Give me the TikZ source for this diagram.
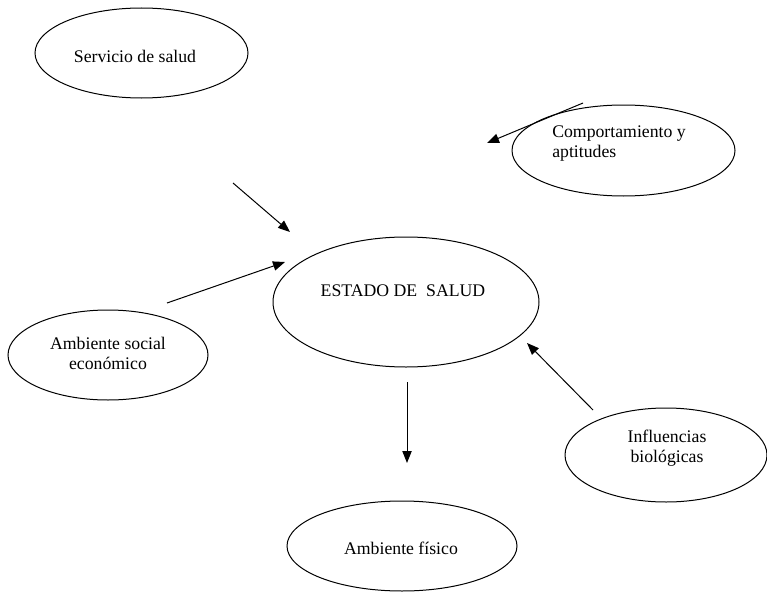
\documentclass[tikz,border=0pt]{standalone}
\usepackage{fontspec}
\setmainfont{Liberation Serif}
\usetikzlibrary{arrows.meta}
\begin{document}
\begin{tikzpicture}[x=0.75pt,y=-0.75pt,
  oval/.style={line width=0.75pt},
  lbl/.style={font=\fontsize{13.3}{15}\selectfont,align=center,inner sep=0pt},
  flow/.style={line width=0.75pt,-{Triangle[length=9pt,width=7pt]}}]
\useasboundingbox (0,0) rectangle (767,592);
% ellipses
\draw[oval] (141.5,53) ellipse [x radius=106.5,y radius=45];
\draw[oval] (623.5,150.5) ellipse [x radius=111.5,y radius=45.5];
\draw[oval] (406,302) ellipse [x radius=133,y radius=65];
\draw[oval] (108,355) ellipse [x radius=100,y radius=45];
\draw[oval] (666,455) ellipse [x radius=101,y radius=47];
\draw[oval] (402,546) ellipse [x radius=115,y radius=45];
% labels
\node[lbl] (serv) at (135,56) {Servicio de salud};
\node[lbl,align=left,anchor=west] (comp) at (552,144) {Comportamiento y\\aptitudes};
\node[lbl] (estado) at (403,291) {ESTADO DE\ \ SALUD};
\node[lbl] (amb) at (108,353) {Ambiente social\\económico};
\node[lbl] (infl) at (667,448) {Influencias\\biológicas};
\node[lbl] (fis) at (401,548) {Ambiente físico};
% connector ends
\coordinate (c1) at (583,103);  \coordinate (c2) at (487,143);
\coordinate (s1) at (233,183);  \coordinate (s2) at (290,232);
\coordinate (a1) at (167,303);  \coordinate (a2) at (285,262);
\coordinate (i1) at (593,410);  \coordinate (i2) at (527,343);
\coordinate (d1) at (407,382);  \coordinate (d2) at (407,463);
% arrows
\draw[flow] (c1) -- (c2);
\draw[flow] (s1) -- (s2);
\draw[flow] (a1) -- (a2);
\draw[flow] (i1) -- (i2);
\draw[flow] (d1) -- (d2);
\end{tikzpicture}
\end{document}
